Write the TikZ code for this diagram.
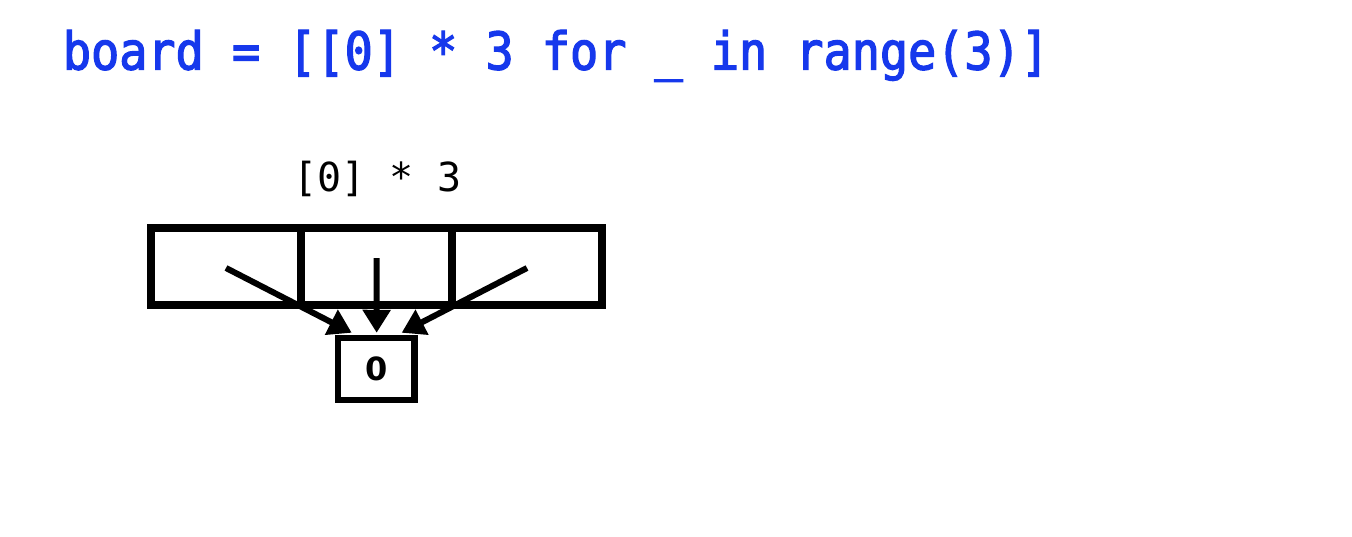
\documentclass[tikz,border=0pt]{standalone}
\usepackage{fontspec}
\usetikzlibrary{arrows.meta,calc}
\newfontfamily\codefont{DejaVu Sans Mono}
\newfontfamily\titlefont[FakeStretch=0.9,FakeBold=2.5]{DejaVu Sans Mono}
\newfontfamily\boxfont{DejaVu Sans}
\definecolor{codeblue}{RGB}{22,56,236}
\begin{document}
\begin{tikzpicture}[x=1pt,y=-1pt,
  cell/.style={draw=black,line width=8pt,minimum width=150.5pt,minimum height=77pt,inner sep=0pt,outer sep=0pt},
  valbox/.style={draw=black,line width=6.5pt,minimum width=76.5pt,minimum height=62pt,inner sep=0pt},
  ptr/.style={line width=6pt,-{Triangle[length=23pt,width=27pt]}}]
\useasboundingbox[fill=white] (0,0) rectangle (1352,536);
\node[anchor=base,text=codeblue,font=\titlefont\fontsize{52}{60}\selectfont] (title) at (556,69.5) {board = [[0] * 3 for \_ in range(3)]};
\node[anchor=base,font=\codefont\fontsize{40}{48}\selectfont] (lbl) at (377.5,191) {[0] * 3};
\node[cell] (c1) at (226,266.5) {};
\node[cell] (c2) at (376.5,266.5) {};
\node[cell] (c3) at (527,266.5) {};
\node[valbox,font=\boxfont\bfseries\fontsize{32}{38}\selectfont] (z) at (376.25,369) {0};
\coordinate (s1) at (226,268);
\coordinate (s2) at (376.7,258);
\coordinate (s3) at (527,268);
\draw[ptr] (s1) -- ([xshift=-24.5pt,yshift=2pt]z.north);
\draw[ptr] (s2) -- ([xshift=0.4pt,yshift=2pt]z.north);
\draw[ptr] (s3) -- ([xshift=25.4pt,yshift=2pt]z.north);
\end{tikzpicture}
\end{document}
